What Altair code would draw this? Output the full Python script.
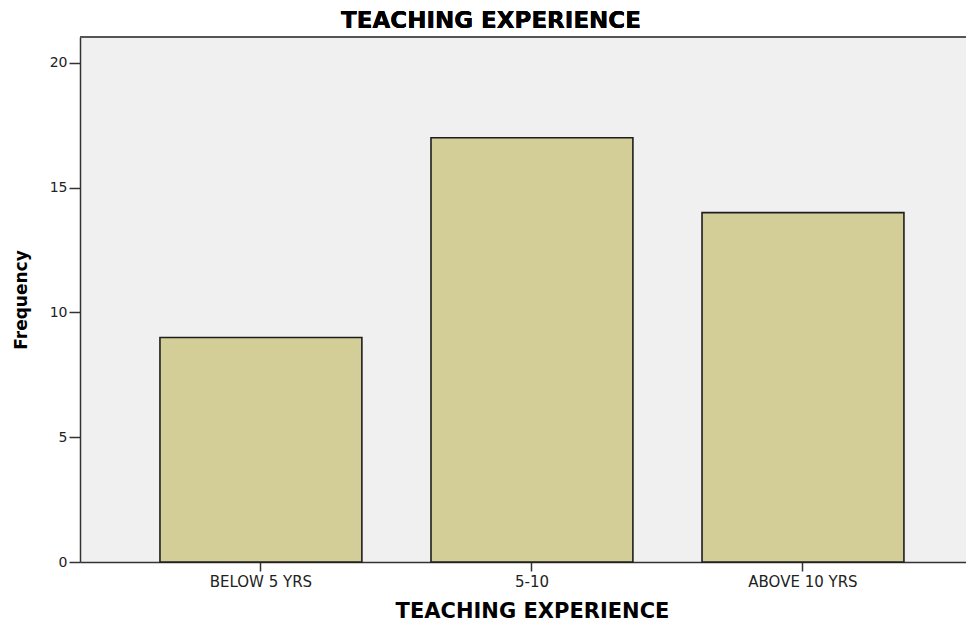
import altair as alt
import pandas as pd

categories = ["BELOW 5 YRS", "5-10", "ABOVE 10 YRS"]
frequencies = [9, 17, 14]
y_ticks = [0, 5, 10, 15, 20]
chart_title = "TEACHING EXPERIENCE"

df = pd.DataFrame({"experience": categories, "frequency": frequencies})

W, H = 886, 525

bars = alt.Chart(df).mark_bar(
    color="#d3ce97", stroke="#1e1e1e", strokeWidth=1.6
).encode(
    x=alt.X(
        "experience:N",
        sort=categories,
        scale=alt.Scale(paddingInner=0.255, paddingOuter=0.262, align=0.563),
        axis=alt.Axis(
            title="TEACHING EXPERIENCE",
            labelAngle=0,
            labelFont="DejaVu Sans",
            labelFontSize=15,
            labelColor="#222222",
            labelPadding=3,
            tickSize=9,
            tickColor="#333333",
            tickWidth=1.5,
            domainColor="#333333",
            domainWidth=1.5,
            titleFont="DejaVu Sans",
            titleFontSize=21,
            titleFontWeight="bold",
            titleColor="#000000",
            titleX=452,
            titleY=55,
            titleBaseline="alphabetic",
        ),
    ),
    y=alt.Y(
        "frequency:Q",
        scale=alt.Scale(domain=[0, 21.04], nice=False),
        axis=alt.Axis(
            title="Frequency",
            values=y_ticks,
            grid=False,
            labelFont="DejaVu Sans",
            labelFontSize=14,
            labelColor="#222222",
            labelPadding=2,
            tickSize=11,
            tickColor="#333333",
            tickWidth=1.5,
            domainColor="#333333",
            domainWidth=1.5,
            titleFont="DejaVu Sans",
            titleFontSize=17,
            titleFontWeight="bold",
            titleColor="#000000",
            titleX=-54,
            titleBaseline="alphabetic",
        ),
    ),
)

top_border = alt.Chart(df).mark_rule(color="#555555", strokeWidth=2).encode(
    x=alt.value(0), x2=alt.value(W), y=alt.value(0)
)

title_text = alt.Chart(df).mark_text(
    font="DejaVu Sans", fontSize=23, fontWeight="bold", color="#000000",
    align="center", baseline="alphabetic"
).encode(
    text=alt.value(chart_title), x=alt.value(411), y=alt.value(-9)
)

chart = alt.layer(bars, top_border, title_text).properties(
    width=W,
    height=H,
    autosize=alt.AutoSizeParams(type="none"),
    padding={"left": 72, "top": 29, "right": 0, "bottom": 59},
).configure_view(fill="#f0f0f0", stroke=None)

chart.save("out.html", embed_options={"renderer": "svg", "actions": False})
